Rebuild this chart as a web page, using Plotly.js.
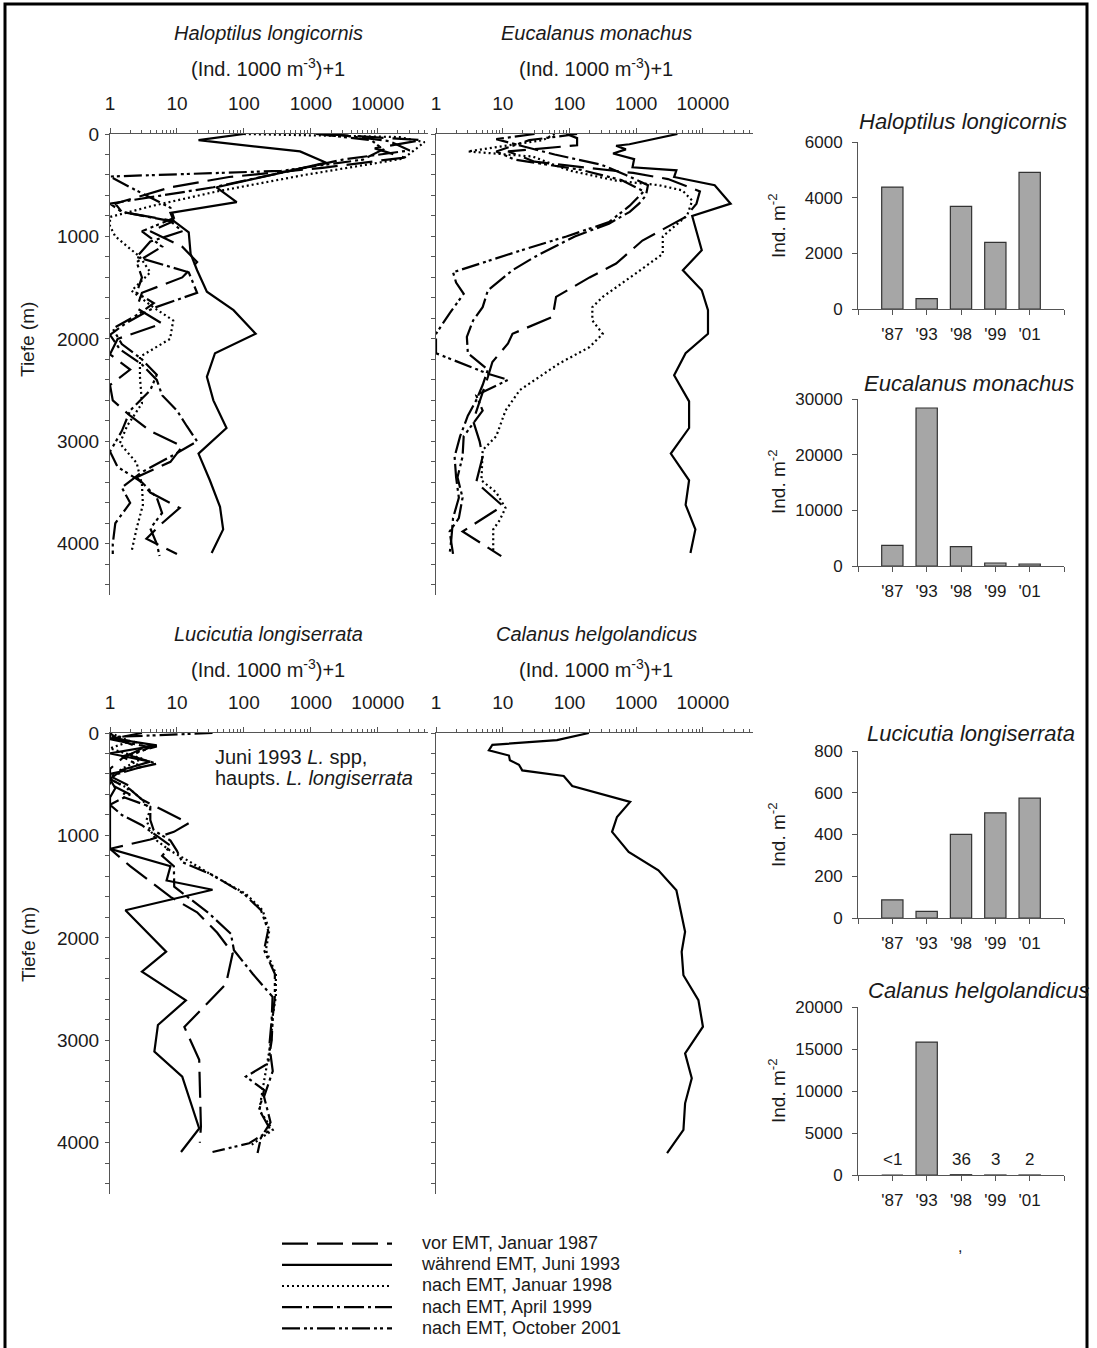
<!DOCTYPE html>
<html><head><meta charset="utf-8">
<script src="https://cdn.plot.ly/plotly-3.0.1.min.js"></script>
<style>html,body{margin:0;padding:0;background:#fff;overflow:hidden}#chart{width:1097px;height:1348px}</style>
</head><body><div id="chart"></div>
<script>
// ---------- DATA ----------
const seriesNames = ["vor EMT, Januar 1987", "während EMT, Juni 1993", "nach EMT, Januar 1998", "nach EMT, April 1999", "nach EMT, October 2001"];
const xTickVals = [1, 10, 100, 1000, 10000];
const xTickText = ["1", "10", "100", "1000", "10000"];
const depthLabels = [0, 1000, 2000, 3000, 4000];
const years = ["'87", "'93", "'98", "'99", "'01"];

// Haloptilus longicornis profiles (depth m, (Ind. 1000 m-3)+1)
const HL_87_d = [0, 60, 140, 230, 330, 420, 520, 600, 680, 760, 850, 950, 1100, 1250, 1400, 1550, 1700, 1850, 2000, 2150, 2300, 2450, 2600, 2750, 2900, 3050, 3200, 3350, 3500, 3650, 3800, 3950, 4100];
const HL_87_v = [1500, 45000, 9000, 25000, 1500, 60, 8, 3, 1.2, 1.5, 9, 4, 12, 20, 12, 3, 2.5, 6, 1.3, 1, 2, 1, 1.1, 2, 4, 12, 8, 2.5, 4, 11, 6, 3.5, 10];
const HL_93_d = [0, 60, 170, 280, 520, 665, 770, 850, 960, 1170, 1330, 1540, 1720, 1950, 2140, 2370, 2600, 2870, 3120, 3380, 3640, 3860, 4090];
const HL_93_v = [100, 21, 690, 1700, 39, 78, 8, 9, 15, 16, 20, 28, 70, 150, 37, 28, 35, 55, 21, 31, 44, 49, 33];
const HL_98_d = [0, 30, 80, 240, 400, 560, 700, 810, 900, 1000, 1200, 1350, 1530, 1690, 1820, 2000, 2175, 2370, 2630, 2850, 3020, 3210, 3420, 3620, 3850, 4075];
const HL_98_v = [100, 21000, 50000, 24000, 800, 40, 4.4, 1, 1, 1.2, 2.8, 4, 2.1, 4.4, 8.8, 7.9, 2.8, 2.8, 3, 1.8, 1.4, 2.5, 3, 3.1, 2.5, 2.1];
const HL_99_d = [0, 70, 160, 250, 330, 430, 520, 680, 760, 850, 950, 1050, 1200, 1350, 1550, 1700, 1850, 1960, 2100, 2250, 2400, 2550, 2700, 2850, 3000, 3150, 3300, 3450, 3600, 3800, 4000, 4100];
const HL_99_v = [2000, 15000, 30000, 3000, 800, 150, 35, 1, 1.5, 8, 12, 4, 2.5, 15, 20, 4.4, 1.7, 1, 1.4, 3, 5, 6, 10, 14, 20, 8, 3, 1.5, 2, 1.2, 1.1, 1.1];
const HL_01_d = [0, 60, 150, 250, 360, 415, 520, 620, 720, 820, 950, 1100, 1250, 1400, 1550, 1650, 1750, 1900, 2050, 2200, 2350, 2500, 2700, 2900, 3100, 3250, 3400, 3550, 3700, 3850, 4000, 4120];
const HL_01_v = [1200, 8000, 12000, 6000, 360, 1, 2, 4, 8, 9, 3, 6, 2.5, 3, 2.5, 4.5, 2.8, 1.1, 1.5, 3, 5, 4, 2, 1.5, 1, 1.3, 3, 5, 6, 4, 5, 5.5];

// Eucalanus monachus profiles
const EM_87_d = [0, 40, 110, 170, 270, 380, 440, 560, 680, 810, 1040, 1265, 1400, 1590, 1785, 1950, 2045, 2225, 2370, 2600, 2800, 3000, 3150, 3400, 3630, 3880, 4120];
const EM_87_v = [90, 130, 130, 12, 30, 900, 3000, 9000, 8000, 5500, 1240, 500, 200, 63, 56, 14, 12, 7, 6, 4.5, 3.6, 4.5, 5, 4, 10, 2.5, 9.5];
const EM_93_d = [0, 100, 115, 150, 190, 245, 325, 355, 420, 500, 680, 800, 1135, 1330, 1525, 1720, 1950, 2140, 2355, 2610, 2870, 3120, 3380, 3620, 3860, 4090];
const EM_93_v = [4150, 790, 500, 700, 450, 930, 880, 4000, 3700, 15000, 26000, 6900, 9600, 5000, 9600, 11900, 11900, 5500, 3700, 6200, 6200, 3300, 6200, 5500, 7700, 6500];
const EM_98_d = [0, 60, 170, 220, 357, 455, 500, 550, 650, 795, 1000, 1170, 1360, 1590, 1690, 1820, 1950, 2080, 2240, 2500, 2700, 2950, 3085, 3380, 3500, 3650, 3770, 3860, 4090];
const EM_98_v = [60, 40, 3, 28, 100, 500, 2200, 4900, 6900, 5800, 2500, 2500, 990, 315, 220, 220, 315, 200, 70, 18, 11, 8, 5, 4.8, 8, 11, 9, 7.2, 7.2];
const EM_99_d = [0, 50, 120, 200, 300, 400, 500, 600, 680, 760, 875, 1000, 1200, 1330, 1525, 1690, 1820, 1980, 2140, 2300, 2450, 2600, 2750, 2950, 3150, 3350, 3550, 3750, 3950, 4100];
const EM_99_v = [30, 8, 20, 60, 300, 700, 1500, 1400, 1100, 800, 390, 120, 30, 14, 6, 5, 3.6, 2.9, 3, 6, 5, 4, 3, 2.3, 1.9, 2, 2.2, 1.8, 1.7, 1.6];
const EM_01_d = [0, 60, 170, 250, 350, 450, 560, 640, 700, 860, 1000, 1140, 1350, 1450, 1560, 1750, 1950, 2140, 2340, 2400, 2550, 2700, 2950, 3150, 3350, 3550, 3750, 3880, 4100];
const EM_01_v = [130, 25, 8, 15, 150, 600, 1300, 1000, 800, 390, 90, 18, 1.8, 2, 2.6, 1.6, 1, 1, 6, 12, 4, 5, 2.6, 2.5, 2.1, 2.5, 2.2, 1.6, 1.8];

// Lucicutia longiserrata profiles
const LL_87_d = [0, 60, 150, 250, 350, 450, 550, 650, 750, 880, 965, 1040, 1130, 1300, 1450, 1600, 1750, 1950, 2150, 2450, 2870, 3190, 3450, 3710, 3840, 4000];
const LL_87_v = [1, 1.3, 3, 1.5, 1, 1, 2, 3, 6, 15, 9, 4, 1, 2, 4, 8, 20, 40, 68, 54, 12.9, 21.5, 22, 22.8, 22.8, 22];
const LL_93_d = [0, 50, 120, 200, 280, 360, 450, 540, 630, 720, 820, 920, 1020, 1130, 1300, 1440, 1530, 1730, 2135, 2330, 2610, 2850, 3110, 3355, 3860, 4090];
const LL_93_v = [1, 1, 5, 1, 4, 1.5, 1, 1.2, 1, 1, 1, 1, 1, 1, 8, 7, 34, 1.7, 6.9, 3, 13.6, 5.2, 4.6, 12, 21.5, 11.5];
const LL_98_d = [0, 80, 150, 250, 350, 450, 550, 650, 750, 850, 950, 1050, 1150, 1250, 1390, 1570, 1730, 1925, 2120, 2350, 2575, 2770, 3000, 3225, 3485, 3680, 3875, 4020];
const LL_98_v = [1, 2, 1, 3, 1.5, 1, 2, 3, 4, 3.5, 4, 5, 8, 15, 34, 107, 190, 240, 213, 300, 300, 268, 255, 225, 190, 170, 270, 130];
const LL_99_d = [0, 60, 140, 220, 300, 400, 500, 600, 700, 800, 900, 1000, 1100, 1200, 1300, 1500, 1760, 1960, 2120, 2350, 2575, 2800, 3050, 3300, 3550, 3800, 3950, 4100];
const LL_99_v = [3, 1, 4, 2, 5, 1, 1, 2, 1, 1.5, 3, 5, 8, 6, 9, 9.1, 30, 64, 71, 135, 268, 260, 240, 270, 200, 250, 180, 160];
const LL_01_d = [0, 40, 130, 230, 330, 420, 520, 620, 720, 850, 950, 1050, 1150, 1260, 1390, 1570, 1730, 1925, 2120, 2350, 2575, 2770, 3000, 3225, 3355, 3485, 3680, 3875, 4005, 4090];
const LL_01_v = [34, 1, 5, 1.5, 3, 1, 2, 1.5, 4, 4, 4.5, 8, 10, 12, 35, 100, 180, 230, 200, 290, 290, 270, 260, 230, 107, 200, 170, 250, 120, 34];

// Calanus helgolandicus profile (June 1993 only)
const CH_93_d = [0, 70, 115, 170, 220, 265, 310, 365, 420, 517, 673, 820, 965, 1160, 1340, 1535, 1940, 2135, 2365, 2607, 2867, 3127, 3370, 3615, 3875, 4100];
const CH_93_v = [195, 65, 7, 6.2, 12.4, 12.8, 17.5, 19.6, 82, 110, 810, 515, 435, 770, 2150, 4000, 5400, 4800, 5100, 8550, 10000, 5400, 6800, 5400, 5100, 2900];

// Integrated abundances (Ind. m-2)
const HL_bar = [4380, 370, 3690, 2395, 4910];
const EM_bar = [3710, 28380, 3470, 540, 360];
const LL_bar = [87, 32, 401, 504, 574];
const CH_bar = [0.5, 15830, 36, 3, 2];
const CH_labels = ["<1", "", "36", "3", "2"];

// ---------- LAYOUT HELPERS ----------
const W = 1097, H = 1348;
const px = x => x / W;
const py = y => 1 - y / H;
const TXT = '#1a1a1a', AX = '#555';
const FONT = 'Liberation Sans, Arial, sans-serif';
const dashes = ['26px,9px', 'solid', '2px,3px', '20px,4px,3px,4px', '18px,4px,3px,3px,3px,4px'];

const minorVals = [];
for (let k = 0; k < 5; k++) for (let m = 2; m <= 9; m++) minorVals.push(m * Math.pow(10, k));
const depthMinor = [];
for (let d = 200; d <= 4400; d += 200) if (d % 1000 !== 0) depthMinor.push(d);

const panels = [
  {ax: '', d: [HL_87_d, HL_93_d, HL_98_d, HL_99_d, HL_01_d], v: [HL_87_v, HL_93_v, HL_98_v, HL_99_v, HL_01_v]},
  {ax: '2', d: [EM_87_d, EM_93_d, EM_98_d, EM_99_d, EM_01_d], v: [EM_87_v, EM_93_v, EM_98_v, EM_99_v, EM_01_v]},
  {ax: '3', d: [LL_87_d, LL_93_d, LL_98_d, LL_99_d, LL_01_d], v: [LL_87_v, LL_93_v, LL_98_v, LL_99_v, LL_01_v]},
  {ax: '4', d: [null, CH_93_d, null, null, null], v: [null, CH_93_v, null, null, null]}
];

const pad = '\u00a0\u00a0\u00a0\u00a0\u00a0';
const traces = [];
panels.forEach((p, pi) => {
  for (let s = 0; s < 5; s++) {
    if (!p.d[s]) continue;
    traces.push({
      type: 'scatter', mode: 'lines', x: p.v[s], y: p.d[s],
      xaxis: 'x' + p.ax, yaxis: 'y' + p.ax,
      name: '<span style="font-size:18px">' + pad + seriesNames[s] + '</span>',
      showlegend: pi === 0,
      line: {color: '#000', width: 2.2, dash: dashes[s]}, hoverinfo: 'skip'
    });
  }
});

const bars = [[HL_bar, '5'], [EM_bar, '6'], [LL_bar, '7'], [CH_bar, '8']];
bars.forEach(([vals, a]) => {
  traces.push({
    type: 'bar', x: years.map((_, i) => i + 1), y: vals, xaxis: 'x' + a, yaxis: 'y' + a,
    width: 0.62, showlegend: false, hoverinfo: 'skip',
    marker: {color: '#a6a6a6', line: {color: '#333', width: 1.2}}
  });
});

const layout = {
  width: W, height: H, margin: {l: 0, r: 0, t: 0, b: 0, autoexpand: false},
  paper_bgcolor: '#fff', plot_bgcolor: 'rgba(0,0,0,0)',
  font: {family: FONT, color: TXT, size: 18},
  showlegend: true,
  legend: {x: px(277), y: py(1228), xanchor: 'left', yanchor: 'top', itemwidth: 110,
           font: {size: 14, color: TXT}, bgcolor: 'rgba(0,0,0,0)', traceorder: 'normal'},
  annotations: [], shapes: []
};

function profX(x0, x1, anchor) {
  return {type: 'log', side: 'top', anchor: anchor, domain: [px(x0), px(x1)], range: [0, 4.75],
    tickmode: 'array', tickvals: xTickVals, ticktext: xTickText,
    ticks: 'outside', ticklen: 5, tickcolor: AX, showline: true, linecolor: AX, linewidth: 1,
    showgrid: false, zeroline: false, tickfont: {size: 19, color: TXT}, ticklabelstandoff: 10,
    minor: {tickmode: 'array', tickvals: minorVals, ticks: 'outside', ticklen: 3, tickcolor: AX, showgrid: false}};
}
function profY(yTop, yBot, anchor, labels) {
  return {domain: [py(yBot), py(yTop)], range: [4500, 0], anchor: anchor,
    tickmode: 'array', tickvals: depthLabels, ticktext: depthLabels.map(String), showticklabels: labels,
    ticks: 'outside', ticklen: 4, tickcolor: AX, showline: true, linecolor: AX, linewidth: 1,
    showgrid: false, zeroline: false, tickfont: {size: 19, color: TXT}, ticklabelstandoff: 2,
    minor: {tickmode: 'array', tickvals: depthMinor, ticks: 'outside', ticklen: 4, tickcolor: AX, showgrid: false}};
}
layout.xaxis = profX(110, 428, 'y');
layout.yaxis = profY(134, 595, 'x', true);
layout.xaxis2 = profX(436, 753, 'y2');
layout.yaxis2 = profY(134, 595, 'x2', false);
layout.xaxis3 = profX(110, 428, 'y3');
layout.yaxis3 = profY(733, 1194, 'x3', true);
layout.xaxis4 = profX(436, 753, 'y4');
layout.yaxis4 = profY(733, 1194, 'x4', false);

function barX(anchor) {
  return {domain: [px(858), px(1064)], range: [0, 6], anchor: anchor,
    tickmode: 'array', tickvals: years.map((_, i) => i + 1), ticktext: years,
    ticks: 'outside', ticklen: 5, tickcolor: AX, showline: true, linecolor: AX, linewidth: 1,
    showgrid: false, zeroline: false, tickfont: {size: 17, color: TXT}, ticklabelstandoff: 5,
    minor: {tickmode: 'array', tickvals: [0, 6], ticks: 'outside', ticklen: 5, tickcolor: AX, showgrid: false}};
}
function barY(yTop, yBot, max, dt, anchor) {
  return {domain: [py(yBot), py(yTop)], range: [0, max], anchor: anchor, dtick: dt, tick0: 0,
    tickformat: 'd', ticks: 'outside', ticklen: 5, tickcolor: AX, showline: true, linecolor: AX, linewidth: 1,
    showgrid: false, zeroline: false, tickfont: {size: 17, color: TXT}, ticklabelstandoff: 6};
}
layout.xaxis5 = barX('y5'); layout.yaxis5 = barY(142, 309, 6000, 2000, 'x5');
layout.xaxis6 = barX('y6'); layout.yaxis6 = barY(399, 566, 30000, 10000, 'x6');
layout.xaxis7 = barX('y7'); layout.yaxis7 = barY(751, 918, 800, 200, 'x7');
layout.xaxis8 = barX('y8'); layout.yaxis8 = barY(1007, 1175, 20000, 5000, 'x8');

function ann(text, x, y, opts) {
  layout.annotations.push(Object.assign({text: text, x: px(x), y: py(y), xref: 'paper', yref: 'paper',
    showarrow: false, xanchor: 'center', yanchor: 'middle', font: {size: 20, color: TXT}}, opts || {}));
}
const unitTxt = '(Ind. 1000 m<sup>-3</sup>)+1';
const barTitleFont = {font: {size: 22, color: TXT}};
ann('<i>Haloptilus longicornis</i>', 268, 33);
ann(unitTxt, 268, 68);
ann('<i>Eucalanus monachus</i>', 596, 33);
ann(unitTxt, 596, 68);
ann('<i>Lucicutia longiserrata</i>', 268, 634);
ann(unitTxt, 268, 668);
ann('<i>Calanus helgolandicus</i>', 596, 634);
ann(unitTxt, 596, 668);
ann('Tiefe (m)', 28, 340, {textangle: -90, font: {size: 19, color: TXT}});
ann('Tiefe (m)', 28, 945, {textangle: -90, font: {size: 19, color: TXT}});
ann('Juni 1993 <i>L.</i> spp,', 213, 757, {xanchor: 'left'});
ann('haupts. <i>L. longiserrata</i>', 213, 778, {xanchor: 'left'});
ann('<i>Haloptilus longicornis</i>', 963, 122, barTitleFont);
ann('<i>Eucalanus monachus</i>', 969, 383, barTitleFont);
ann('<i>Lucicutia longiserrata</i>', 971, 733, barTitleFont);
ann('<i>Calanus helgolandicus</i>', 866, 990, Object.assign({xanchor: 'left'}, barTitleFont));
[226, 482, 835, 1091].forEach(y => ann('Ind. m<sup>-2</sup>', 777, y, {textangle: -90, font: {size: 19, color: TXT}}));
ann(',', 960, 1246, {font: {size: 16, color: TXT}});
CH_labels.forEach((t, i) => {
  if (!t) return;
  layout.annotations.push({text: t, x: i + 1, y: 0, xref: 'x8', yref: 'y8', yanchor: 'bottom', yshift: 4,
    showarrow: false, font: {size: 17, color: TXT}});
});

layout.shapes.push({type: 'rect', xref: 'paper', yref: 'paper', x0: px(5), x1: px(1087), y0: py(4), y1: py(1370),
  line: {color: '#000', width: 3}, fillcolor: 'rgba(0,0,0,0)', layer: 'above'});

Plotly.newPlot('chart', traces, layout, {displayModeBar: false, staticPlot: true});
</script></body></html>
